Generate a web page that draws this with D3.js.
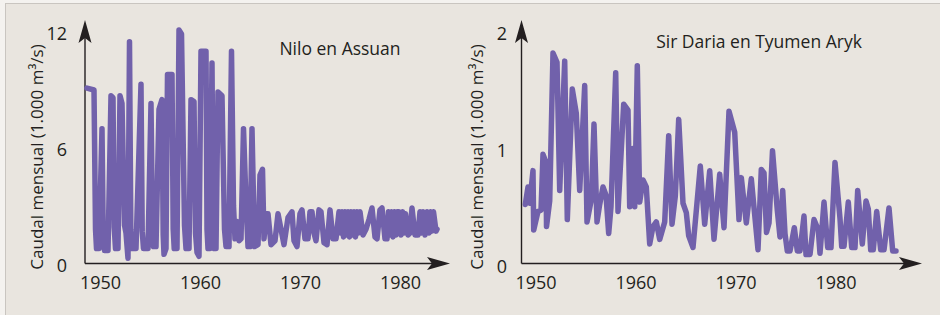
<!DOCTYPE html>
<html>
<head>
<meta charset="utf-8">
<script src="https://cdn.jsdelivr.net/npm/d3@7"></script>
<style>
  body { margin: 0; background: #f4f2ef; }
  text { font-family: "Open Sans", sans-serif; fill: #231f20; }
</style>
</head>
<body>
<div id="chart"></div>
<script>
// Nilo en Assuan - monthly flow (1.000 m3/s), [year, flow]
const nile = [
  [1948.70, 9.1], [1949.40, 9.0], [1949.55, 1.8], [1949.65, 0.8], [1949.90, 0.8],
  [1950.20, 7.0], [1950.32, 1.6], [1950.45, 0.7], [1950.80, 0.7],
  [1951.10, 8.7], [1951.30, 8.6], [1951.42, 1.9], [1951.55, 0.8], [1951.80, 0.8],
  [1952.00, 8.7], [1952.20, 8.3], [1952.45, 2.0], [1952.60, 1.6], [1952.80, 0.3],
  [1952.95, 11.5], [1953.08, 1.8], [1953.20, 0.8], [1953.60, 0.8],
  [1954.10, 9.3], [1954.22, 1.7], [1954.35, 0.8], [1954.80, 0.8],
  [1955.10, 8.3], [1955.25, 1.8], [1955.35, 0.9], [1955.60, 0.9],
  [1955.90, 8.0], [1956.20, 8.5], [1956.32, 1.5], [1956.40, 0.5], [1956.60, 0.8],
  [1956.75, 9.8], [1957.20, 9.8], [1957.32, 1.8], [1957.42, 0.8], [1957.70, 0.8],
  [1957.90, 12.1], [1958.15, 11.9], [1958.45, 2.0], [1958.60, 0.8], [1958.90, 0.8],
  [1959.10, 8.5], [1959.40, 8.4], [1959.55, 1.6], [1959.70, 0.6], [1959.90, 0.4],
  [1960.10, 11.0], [1960.60, 11.0], [1960.70, 1.8], [1960.80, 0.8], [1961.00, 0.8],
  [1961.20, 10.4], [1961.32, 1.7], [1961.42, 0.8], [1961.60, 0.8],
  [1961.80, 8.9], [1962.20, 8.7], [1962.45, 1.8], [1962.60, 0.9], [1962.90, 0.9],
  [1963.15, 11.0], [1963.35, 3.0], [1963.50, 1.3], [1963.70, 2.2], [1963.90, 1.2], [1964.10, 1.3],
  [1964.35, 7.0], [1964.60, 3.2], [1964.80, 0.9], [1965.00, 0.9],
  [1965.20, 7.0], [1965.45, 0.9], [1965.80, 1.0],
  [1966.00, 4.6], [1966.25, 4.9], [1966.40, 1.3],
  [1966.60, 2.6], [1966.80, 2.6], [1967.10, 1.0], [1967.50, 1.2], [1967.80, 2.6], [1968.10, 1.8],
  [1968.40, 1.0], [1968.80, 2.4], [1969.20, 2.7], [1969.40, 1.2], [1969.70, 0.9], [1970.00, 2.6],
  [1970.20, 2.8], [1970.50, 1.3], [1970.80, 1.3], [1971.00, 2.7], [1971.20, 2.7], [1971.40, 1.6],
  [1971.60, 1.2], [1971.90, 2.8], [1972.10, 2.7], [1972.40, 1.1], [1972.70, 1.0], [1973.00, 2.8],
  [1973.30, 1.3], [1973.60, 1.3], [1973.90, 2.7], [1974.05, 1.6], [1974.20, 2.7], [1974.35, 1.4],
  [1974.50, 2.7], [1974.65, 1.5], [1974.80, 2.7], [1974.95, 1.4], [1975.10, 2.7], [1975.25, 1.5],
  [1975.40, 2.7], [1975.55, 1.4], [1975.70, 2.7], [1975.85, 1.6], [1976.00, 2.7], [1976.30, 1.5],
  [1976.60, 1.8], [1976.90, 2.3], [1977.20, 2.9], [1977.50, 1.4], [1977.70, 1.3], [1978.00, 2.8],
  [1978.20, 2.9], [1978.50, 1.3], [1978.70, 1.3], [1978.85, 2.7], [1979.00, 1.5], [1979.15, 2.7],
  [1979.30, 1.4], [1979.45, 2.7], [1979.60, 1.5], [1979.75, 2.7], [1979.90, 2.7], [1980.10, 1.5],
  [1980.25, 2.7], [1980.40, 1.6], [1980.55, 2.6], [1980.80, 1.5], [1981.00, 1.6], [1981.20, 2.9],
  [1981.50, 1.5], [1981.80, 1.5], [1982.00, 2.7], [1982.15, 1.6], [1982.30, 2.7], [1982.50, 1.5],
  [1982.70, 2.7], [1982.90, 1.6], [1983.05, 2.7], [1983.20, 1.7], [1983.35, 2.7], [1983.60, 1.7],
  [1983.70, 1.8]
];

// Sir Daria en Tyumen Aryk
const sirDaria = [
  [1948.98, 0.52], [1949.25, 0.67], [1949.42, 0.53], [1949.75, 0.81], [1949.82, 0.30], [1950.25, 0.46],
  [1950.55, 0.47], [1950.75, 0.95], [1951.05, 0.88], [1951.10, 0.33], [1951.42, 0.55], [1951.75, 1.82],
  [1952.15, 1.74], [1952.42, 0.64], [1952.92, 1.75], [1953.18, 0.39], [1953.68, 1.51], [1954.08, 1.30],
  [1954.42, 0.64], [1954.92, 1.54], [1955.15, 0.37], [1955.58, 0.56], [1955.85, 1.21], [1956.15, 0.37],
  [1956.42, 0.52], [1956.75, 0.67], [1957.05, 0.60], [1957.32, 0.27], [1957.55, 0.50], [1958.02, 1.65],
  [1958.25, 0.46], [1958.82, 1.38], [1959.25, 1.33], [1959.42, 0.50], [1959.75, 1.00], [1959.92, 0.50],
  [1960.18, 1.71], [1960.42, 0.54], [1960.75, 0.73], [1961.08, 0.67], [1961.42, 0.18], [1961.75, 0.33],
  [1962.08, 0.37], [1962.42, 0.22], [1962.92, 0.37], [1963.32, 1.11], [1963.65, 0.35], [1963.98, 0.59],
  [1964.32, 1.25], [1964.75, 0.53], [1965.08, 0.45], [1965.32, 0.25], [1965.75, 0.15], [1966.48, 0.85],
  [1966.92, 0.35], [1967.42, 0.81], [1967.85, 0.22], [1968.42, 0.78], [1968.85, 0.32], [1969.35, 1.32],
  [1969.92, 1.14], [1970.35, 0.39], [1970.58, 0.75], [1971.08, 0.36], [1971.58, 0.74], [1972.25, 0.13],
  [1972.58, 0.82], [1972.85, 0.79], [1973.10, 0.28], [1973.35, 0.36], [1973.70, 0.98], [1974.18, 0.47],
  [1974.45, 0.24], [1974.72, 0.64], [1974.95, 0.27], [1975.18, 0.12], [1975.45, 0.12], [1975.88, 0.32],
  [1976.18, 0.12], [1976.45, 0.12], [1976.85, 0.42], [1977.05, 0.09], [1977.45, 0.09], [1977.85, 0.39],
  [1978.28, 0.30], [1978.45, 0.10], [1978.85, 0.54], [1979.22, 0.15], [1979.55, 0.15], [1979.95, 0.88],
  [1980.45, 0.40], [1980.62, 0.16], [1980.85, 0.16], [1981.28, 0.54], [1981.62, 0.15], [1981.95, 0.15],
  [1982.22, 0.64], [1982.68, 0.18], [1983.05, 0.55], [1983.28, 0.48], [1983.52, 0.13], [1983.78, 0.13],
  [1984.12, 0.46], [1984.52, 0.13], [1984.85, 0.13], [1985.35, 0.49], [1985.72, 0.12], [1986.05, 0.12]
];

const yearTicks = [1950, 1960, 1970, 1980];
const nileTicks = [0, 6, 12];
const darTicks = [0, 1, 2];
const yLabel = "Caudal mensual (1.000 m³/s)";

const W = 940, H = 315;
const lineColor = "#7161ab";

const svg = d3.select("#chart").append("svg")
    .attr("width", W)
    .attr("height", H);

// panel background
svg.append("rect")
    .attr("x", 5.5).attr("y", 3.5)
    .attr("width", W).attr("height", H)
    .attr("fill", "#e9e5df")
    .attr("stroke", "#c9c5c0");

function drawPanel(p) {
  const g = svg.append("g");

  const x = d3.scaleLinear().domain([1950, 1980]).range([p.x1950, p.x1950 + 300]);
  const y = d3.scaleLinear().domain([0, p.yMax]).range([p.y0, 32]);

  // axis lines with arrow heads
  g.append("line")
      .attr("x1", p.ax).attr("x2", p.ax)
      .attr("y1", p.axisY).attr("y2", 36)
      .attr("stroke", "#231f20").attr("stroke-width", 1.4);
  g.append("line")
      .attr("x1", p.ax).attr("x2", p.xEnd - 8)
      .attr("y1", p.axisY).attr("y2", p.axisY)
      .attr("stroke", "#231f20").attr("stroke-width", 1.4);
  g.append("path")
      .attr("d", `M${p.ax},20 L${p.ax - 6.5},43 L${p.ax},38 L${p.ax + 6.5},43 Z`)
      .attr("fill", "#231f20");
  g.append("path")
      .attr("d", `M${p.xEnd},${p.axisY} L${p.xEnd - 23},${p.axisY - 6.5} L${p.xEnd - 18},${p.axisY} L${p.xEnd - 23},${p.axisY + 6.5} Z`)
      .attr("fill", "#231f20");

  // tick labels
  const xAxis = g.append("g")
      .attr("transform", `translate(0,${p.axisY})`)
      .call(d3.axisBottom(x).tickValues(yearTicks).tickFormat(d3.format("d")).tickSize(0).tickPadding(13));
  xAxis.select(".domain").remove();
  xAxis.selectAll("text").style("font-size", "18px").attr("fill", "#231f20");

  const yAxis = g.append("g")
      .attr("transform", `translate(${p.labelX},0)`)
      .call(d3.axisLeft(y).tickValues(p.ticks).tickFormat(d3.format("d")).tickSize(0).tickPadding(0));
  yAxis.select(".domain").remove();
  yAxis.selectAll("text").style("font-size", "18px").attr("fill", "#231f20").attr("dy", "0.42em");

  // axis title
  g.append("text")
      .attr("transform", `translate(${p.titleX},157) rotate(-90)`)
      .attr("text-anchor", "middle")
      .attr("dy", "0.35em")
      .style("font-size", "17px")
      .text(yLabel);

  // series name
  g.append("text")
      .attr("x", p.nameX).attr("y", p.nameY)
      .attr("text-anchor", "middle")
      .style("font-size", "17.5px")
      .text(p.name);

  g.append("path")
      .datum(p.data)
      .attr("fill", "none")
      .attr("stroke", lineColor)
      .attr("stroke-width", 5.5)
      .attr("stroke-linejoin", "round")
      .attr("stroke-linecap", "round")
      .attr("d", d3.line().x(d => x(d[0])).y(d => y(d[1])));
}

drawPanel({
  name: "Nilo en Assuan", nameX: 340, nameY: 55,
  data: nile, ticks: nileTicks, yMax: 12,
  x1950: 100, y0: 264, ax: 85, axisY: 263.5, xEnd: 450, labelX: 67, titleX: 37
});

drawPanel({
  name: "Sir Daria en Tyumen Aryk", nameX: 759, nameY: 48,
  data: sirDaria, ticks: darTicks, yMax: 2,
  x1950: 535.5, y0: 265, ax: 521.5, axisY: 263.5, xEnd: 922, labelX: 507, titleX: 477
});
</script>
</body>
</html>
